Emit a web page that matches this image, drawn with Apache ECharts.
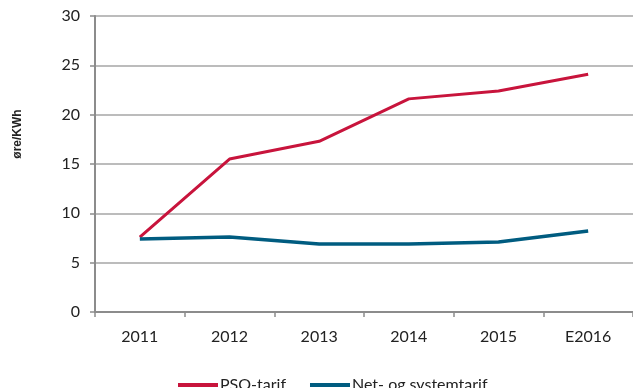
<!DOCTYPE html>
<html>
<head>
<meta charset="utf-8">
<script src="https://cdn.jsdelivr.net/npm/echarts@6/dist/echarts.min.js"></script>
<style>
  html, body { margin: 0; padding: 0; background: #fff; }
  #chart { width: 633px; height: 388px; }
</style>
</head>
<body>
<div id="chart"></div>
<script>
// Tariff development, øre per kWh
const years = ['2011', '2012', '2013', '2014', '2015', 'E2016'];
const psoTarif = [7.6, 15.5, 17.3, 21.6, 22.4, 24.1];
const netSystemTarif = [7.4, 7.6, 6.9, 6.9, 7.1, 8.2];

const FONT = 'Lato, "Open Sans", sans-serif';
const chart = echarts.init(document.getElementById('chart'), null, { renderer: 'canvas' });

chart.setOption({
  animation: false,
  backgroundColor: '#ffffff',
  textStyle: { fontFamily: FONT },
  grid: { left: 95, top: 16, width: 540, height: 296 },
  legend: {
    left: 173,
    top: 372,
    itemWidth: 40,
    itemHeight: 4,
    itemGap: 24,
    icon: 'rect',
    textStyle: { fontFamily: FONT, fontSize: 16, color: '#222', padding: [0, 0, 0, -3] },
    data: ['PSO-tarif', 'Net- og systemtarif']
  },
  xAxis: {
    type: 'category',
    data: years,
    boundaryGap: true,
    axisLine: { lineStyle: { color: '#8c8c8c', width: 2 } },
    axisTick: { show: true, length: 5, lineStyle: { color: '#8c8c8c', width: 1.5 } },
    axisLabel: { color: '#222', fontSize: 16, fontFamily: FONT, margin: 17 }
  },
  yAxis: {
    type: 'value',
    min: 0,
    max: 30,
    interval: 5,
    name: 'øre/KWh',
    nameLocation: 'middle',
    nameGap: 71,
    nameRotate: 90,
    nameTextStyle: {
      color: '#222', fontSize: 12, fontWeight: 'bold',
      fontFamily: '"Liberation Sans", Arial, sans-serif',
      padding: [0, 0, 0, 60]
    },
    axisLine: { show: true, lineStyle: { color: '#8c8c8c', width: 2 } },
    axisTick: { show: true, length: 5, lineStyle: { color: '#8c8c8c', width: 1.5 } },
    axisLabel: { color: '#222', fontSize: 16, fontFamily: FONT, margin: 15 },
    splitLine: { lineStyle: { color: '#a6a6a6', width: 1.5 } }
  },
  series: [
    {
      name: 'PSO-tarif',
      type: 'line',
      data: psoTarif,
      symbol: 'none',
      color: '#C8143C',
      lineStyle: { width: 3, color: '#C8143C' }
    },
    {
      name: 'Net- og systemtarif',
      type: 'line',
      data: netSystemTarif,
      symbol: 'none',
      color: '#005C80',
      lineStyle: { width: 3.5, color: '#005C80' }
    }
  ]
});
</script>
</body>
</html>
